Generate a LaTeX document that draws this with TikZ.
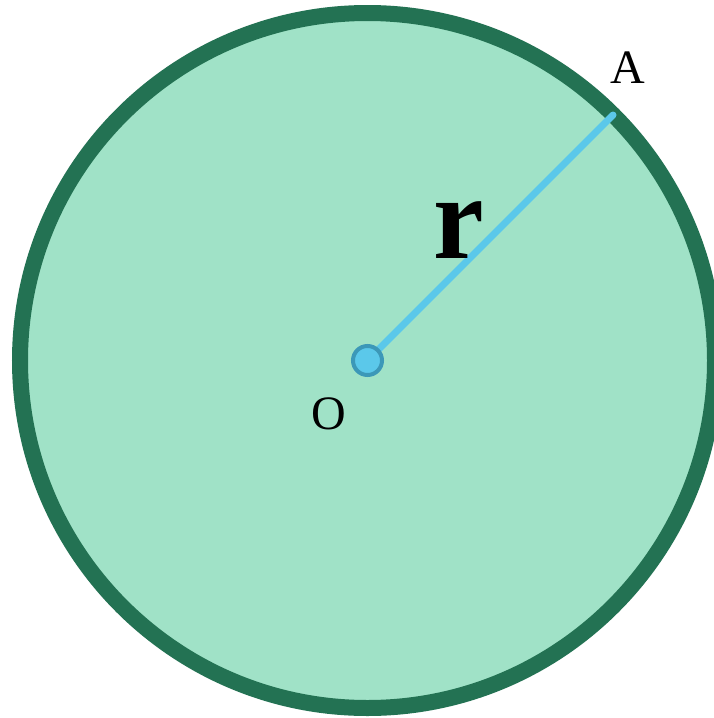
\documentclass[tikz,border=0pt]{standalone}
\usepackage{fontspec}
\setmainfont{Liberation Serif}
\definecolor{discfill}{HTML}{A0E2C7}
\definecolor{discedge}{HTML}{237253}
\definecolor{radcol}{HTML}{5BC8EA}
\definecolor{dotedge}{HTML}{3C98B8}
\begin{document}
\begin{tikzpicture}[x=1pt,y=-1pt,
  lbl/.style={inner sep=0pt, font=\fontsize{48}{48}\selectfont},
  radius line/.style={draw=radcol, line width=7pt, line cap=round},
  dotstyle/.style={circle, fill=radcol, draw=dotedge, line width=4pt, minimum size=29pt, inner sep=0pt}]
\useasboundingbox (0,0) rectangle (713,718);
\fill[white] (0,0) rectangle (713,718);
\coordinate (O) at (367.5,360.5);
\draw[discedge, fill=discfill, line width=16pt] (O) circle[radius=347.5];
\coordinate (A) at (613,115);
\draw[radius line] (O) -- (A);
\node[dotstyle] (Odot) at (O) {};
\node[lbl] (Alab) at (628,68) {A};
\node[lbl] (Olab) at (329,414) {O};
\node[inner sep=0pt, xscale=0.95, font=\fontsize{120}{120}\bfseries\selectfont] (rlab) at (459,230) {r};
\end{tikzpicture}
\end{document}
